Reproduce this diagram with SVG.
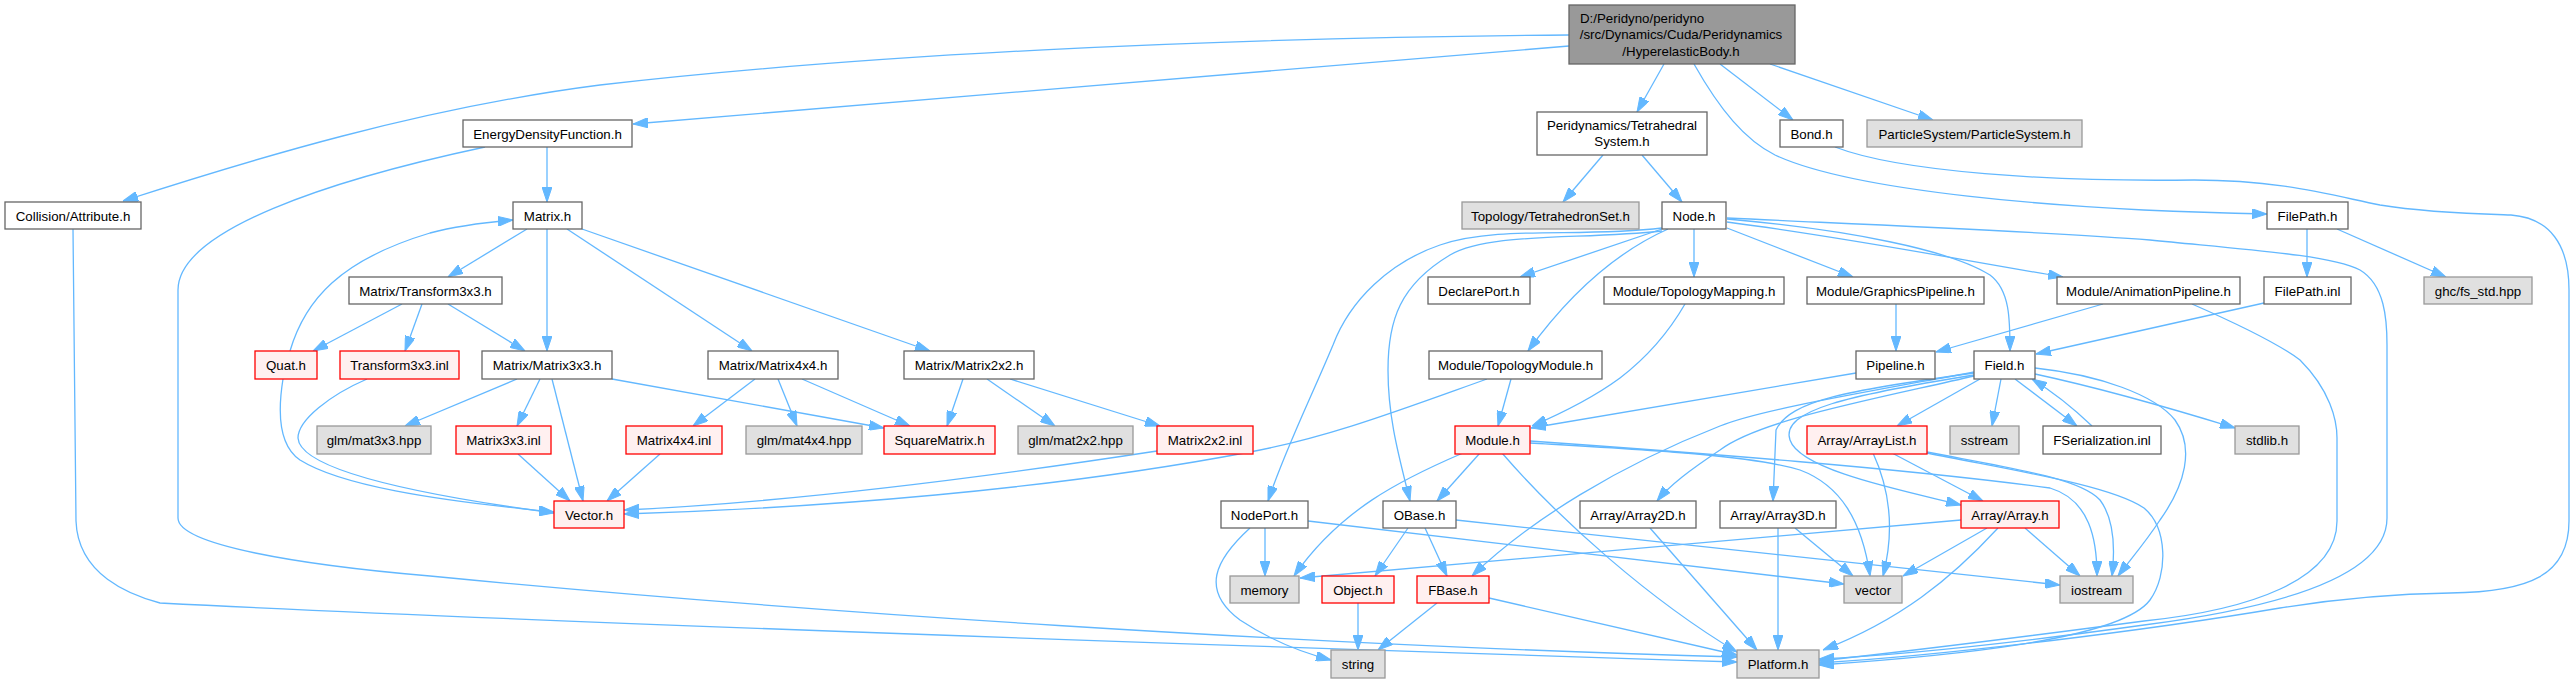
<svg xmlns="http://www.w3.org/2000/svg" width="2574" height="683" viewBox="0 0 2574 683">
<style>
.e{fill:none;stroke:#63b8ff;stroke-width:1.3;marker-end:url(#a)}
rect{stroke-width:1.3}
.w{fill:#fff;stroke:#666}
.r{fill:#fff0f0;stroke:#f00}
.g{fill:#e0e0e0;stroke:#999}
.k{fill:#999;stroke:#666}
text{font-family:"Liberation Sans",Arial,sans-serif;font-size:13.3px;text-anchor:middle;fill:#000}
</style>
<defs>
<marker id="a" markerUnits="userSpaceOnUse" markerWidth="15" markerHeight="10" viewBox="0 0 15 10" refX="15" refY="5" orient="auto"><path d="M0,0 L15,5 L0,10 z" fill="#63b8ff" stroke="#63b8ff"/></marker>
</defs>
<rect width="2574" height="683" fill="#fff"/>
<g id="connectors">
<path class="e" d="M1569,35 C1200,38 860,55 600,85 C420,108 250,160 123,201"/>
<path class="e" d="M1569,46 L633,124"/>
<path class="e" d="M1664,64 L1637,112"/>
<path class="e" d="M1694,64 C1720,110 1745,140 1775,155 C1850,190 2050,210 2267,214"/>
<path class="e" d="M1720,64 L1793,120"/>
<path class="e" d="M1770,64 L1933,120"/>
<path class="e" d="M547,147 L547,202"/>
<path class="e" d="M485,147 C330,180 178,230 178,290 L178,518 C178,545 300,565 430,576 C800,612 1300,645 1737,657"/>
<path class="e" d="M73,229 L76,521 C78,575 130,595 160,603 C600,625 1300,648 1737,662"/>
<path class="e" d="M527,229 L448,277"/>
<path class="e" d="M547,229 L547,351"/>
<path class="e" d="M567,229 L752,351"/>
<path class="e" d="M582,229 L930,351"/>
<path class="e" d="M290,351 C305,300 340,260 430,233 C460,225 490,222 513,220"/>
<path class="e" d="M402,304 L313,351"/>
<path class="e" d="M422,304 L405,351"/>
<path class="e" d="M448,304 L525,351"/>
<path class="e" d="M283,379 C278,410 278,445 300,460 C340,485 430,500 554,512"/>
<path class="e" d="M367,379 C330,395 298,420 298,438 C300,470 420,495 554,513"/>
<path class="e" d="M517,379 L405,426"/>
<path class="e" d="M540,379 L517,426"/>
<path class="e" d="M552,379 L583,501"/>
<path class="e" d="M612,379 L884,428"/>
<path class="e" d="M755,379 L693,426"/>
<path class="e" d="M778,379 L797,426"/>
<path class="e" d="M802,379 L910,426"/>
<path class="e" d="M518,454 L570,501"/>
<path class="e" d="M660,454 L607,501"/>
<path class="e" d="M963,379 L947,426"/>
<path class="e" d="M987,379 L1055,426"/>
<path class="e" d="M1010,379 L1160,426"/>
<path class="e" d="M1157,451 C1000,475 800,502 624,510"/>
<path class="e" d="M1487,379 C1400,410 1330,437 1250,452 C1050,490 820,508 624,514"/>
<path class="e" d="M1603,155 L1563,202"/>
<path class="e" d="M1642,155 L1682,202"/>
<path class="e" d="M1662,229 L1520,277"/>
<path class="e" d="M1694,229 L1694,277"/>
<path class="e" d="M1668,229 C1610,255 1565,300 1528,351"/>
<path class="e" d="M1662,228 C1580,238 1500,225 1440,245 C1390,262 1350,300 1333,345 C1310,400 1285,450 1268,501"/>
<path class="e" d="M1662,231 C1580,240 1490,232 1450,255 C1400,285 1388,320 1388,370 C1388,420 1400,460 1410,501"/>
<path class="e" d="M1727,228 L1853,277"/>
<path class="e" d="M1727,222 C1850,238 1950,258 2063,277"/>
<path class="e" d="M1727,219 C1850,230 1950,250 1990,275 C2010,290 2010,320 2010,351"/>
<path class="e" d="M1727,218 C1900,226 2050,232 2150,240 C2250,250 2330,255 2360,270 C2385,285 2387,320 2387,345 L2387,518 C2387,570 2300,605 2144,625 C2000,645 1900,655 1819,659"/>
<path class="e" d="M1835,147 C1900,172 2050,182 2194,180 C2280,180 2330,195 2380,205 C2430,213 2480,214 2511,215 C2550,218 2569,245 2569,290 L2569,521 C2569,575 2530,592 2450,593 C2380,594 2330,600 2280,608 C2150,630 1950,655 1819,663"/>
<path class="e" d="M2192,304 C2240,325 2280,345 2300,360 C2330,390 2337,420 2337,438 L2337,521 C2337,580 2250,610 2144,621 C2000,640 1900,652 1819,661"/>
<path class="e" d="M2307,229 L2307,277"/>
<path class="e" d="M2337,229 L2446,277"/>
<path class="e" d="M2264,303 L2036,354"/>
<path class="e" d="M1685,304 C1670,330 1650,355 1620,378 C1590,400 1560,414 1532,426"/>
<path class="e" d="M1896,304 L1896,351"/>
<path class="e" d="M2103,304 L1936,352"/>
<path class="e" d="M1856,373 L1531,428"/>
<path class="e" d="M1511,379 L1498,426"/>
<path class="e" d="M1980,379 L1897,426"/>
<path class="e" d="M2001,379 L1992,426"/>
<path class="e" d="M2015,379 L2077,426"/>
<path class="e" d="M2092,426 C2070,405 2050,390 2032,379"/>
<path class="e" d="M2035,374 C2100,388 2170,408 2235,428"/>
<path class="e" d="M2035,368 C2100,375 2155,395 2175,420 C2195,448 2185,485 2160,520 C2145,543 2130,560 2118,576"/>
<path class="e" d="M1927,453 C2010,470 2110,485 2144,508 C2168,528 2168,575 2150,600 C2120,640 1950,656 1819,665"/>
<path class="e" d="M1927,452 C2010,468 2080,478 2100,500 C2115,520 2115,550 2112,576"/>
<path class="e" d="M1974,373 C1850,390 1790,400 1776,430 L1773,501"/>
<path class="e" d="M1974,375 C1850,395 1780,410 1790,440 C1800,470 1900,490 1961,505"/>
<path class="e" d="M1974,376 C1870,400 1760,420 1720,450 C1690,470 1670,485 1657,501"/>
<path class="e" d="M1974,372 C1850,395 1760,410 1720,426 C1620,465 1530,520 1472,576"/>
<path class="e" d="M1502,453 C1560,520 1650,600 1737,652"/>
<path class="e" d="M1480,453 L1437,501"/>
<path class="e" d="M1463,453 C1400,480 1340,510 1294,576"/>
<path class="e" d="M1530,443 C1650,450 1750,455 1800,470 C1840,485 1862,520 1870,576"/>
<path class="e" d="M1530,441 C1700,453 1900,468 2050,488 C2090,500 2097,540 2097,576"/>
<path class="e" d="M1408,528 L1375,576"/>
<path class="e" d="M1425,528 L1447,576"/>
<path class="e" d="M1456,520 L2060,585"/>
<path class="e" d="M1265,528 L1265,576"/>
<path class="e" d="M1250,528 C1215,560 1200,590 1240,620 C1270,640 1300,652 1331,660"/>
<path class="e" d="M1308,521 L1844,584"/>
<path class="e" d="M1892,453 L1983,501"/>
<path class="e" d="M1873,453 C1890,490 1895,530 1883,576"/>
<path class="e" d="M1987,528 L1903,576"/>
<path class="e" d="M2025,528 L2080,576"/>
<path class="e" d="M1998,528 C1950,580 1900,620 1823,650"/>
<path class="e" d="M1961,520 L1300,578"/>
<path class="e" d="M1778,528 L1778,650"/>
<path class="e" d="M1795,528 L1853,576"/>
<path class="e" d="M1650,528 L1757,650"/>
<path class="e" d="M1358,603 L1358,650"/>
<path class="e" d="M1437,603 L1378,650"/>
<path class="e" d="M1489,598 L1737,655"/>
</g>
<g id="root"><rect class="k" x="1569" y="5" width="226" height="59"/><text x="1580" y="23" style="text-anchor:start">D:/Peridyno/peridyno</text><text x="1681" y="39">/src/Dynamics/Cuda/Peridynamics</text><text x="1681" y="56">/HyperelasticBody.h</text></g>
<g id="edf"><rect class="w" x="463" y="120" width="169" height="27"/><text x="547.5" y="138.5">EnergyDensityFunction.h</text></g>
<g id="bond"><rect class="w" x="1780" y="120" width="63" height="27"/><text x="1811.5" y="138.5">Bond.h</text></g>
<g id="ps"><rect class="g" x="1867" y="120" width="215" height="27"/><text x="1974.5" y="138.5">ParticleSystem/ParticleSystem.h</text></g>
<g id="pts"><rect class="w" x="1537" y="112" width="170" height="43"/><text x="1622" y="130">Peridynamics/Tetrahedral</text><text x="1622" y="146">System.h</text></g>
<g id="collision"><rect class="w" x="5" y="202" width="136" height="27"/><text x="73" y="220.5">Collision/Attribute.h</text></g>
<g id="matrix"><rect class="w" x="513" y="202" width="69" height="27"/><text x="547.5" y="220.5">Matrix.h</text></g>
<g id="tetset"><rect class="g" x="1462" y="202" width="177" height="27"/><text x="1550.5" y="220.5">Topology/TetrahedronSet.h</text></g>
<g id="node"><rect class="w" x="1662" y="202" width="64" height="27"/><text x="1694" y="220.5">Node.h</text></g>
<g id="filepath_h"><rect class="w" x="2267" y="202" width="81" height="27"/><text x="2307.5" y="220.5">FilePath.h</text></g>
<g id="transform3x3_h"><rect class="w" x="349" y="277" width="153" height="27"/><text x="425.5" y="295.5">Matrix/Transform3x3.h</text></g>
<g id="declareport"><rect class="w" x="1428" y="277" width="102" height="27"/><text x="1479" y="295.5">DeclarePort.h</text></g>
<g id="topomapping"><rect class="w" x="1604" y="277" width="180" height="27"/><text x="1694" y="295.5">Module/TopologyMapping.h</text></g>
<g id="graphicspipeline"><rect class="w" x="1807" y="277" width="177" height="27"/><text x="1895.5" y="295.5">Module/GraphicsPipeline.h</text></g>
<g id="animpipeline"><rect class="w" x="2057" y="277" width="183" height="27"/><text x="2148.5" y="295.5">Module/AnimationPipeline.h</text></g>
<g id="filepath_inl"><rect class="w" x="2264" y="277" width="87" height="27"/><text x="2307.5" y="295.5">FilePath.inl</text></g>
<g id="ghc"><rect class="g" x="2424" y="277" width="108" height="27"/><text x="2478" y="295.5">ghc/fs_std.hpp</text></g>
<g id="quat"><rect class="r" x="255" y="351" width="62" height="28"/><text x="286" y="370">Quat.h</text></g>
<g id="transform3x3_inl"><rect class="r" x="340" y="351" width="119" height="28"/><text x="399.5" y="370">Transform3x3.inl</text></g>
<g id="matrix3x3_h"><rect class="w" x="482" y="351" width="130" height="28"/><text x="547" y="370">Matrix/Matrix3x3.h</text></g>
<g id="matrix4x4_h"><rect class="w" x="708" y="351" width="130" height="28"/><text x="773" y="370">Matrix/Matrix4x4.h</text></g>
<g id="matrix2x2_h"><rect class="w" x="904" y="351" width="130" height="28"/><text x="969" y="370">Matrix/Matrix2x2.h</text></g>
<g id="topomodule"><rect class="w" x="1429" y="351" width="173" height="28"/><text x="1515.5" y="370">Module/TopologyModule.h</text></g>
<g id="pipeline"><rect class="w" x="1856" y="351" width="79" height="28"/><text x="1895.5" y="370">Pipeline.h</text></g>
<g id="field"><rect class="w" x="1974" y="351" width="61" height="28"/><text x="2004.5" y="370">Field.h</text></g>
<g id="glm3"><rect class="g" x="317" y="426" width="114" height="28"/><text x="374" y="445">glm/mat3x3.hpp</text></g>
<g id="matrix3x3_inl"><rect class="r" x="456" y="426" width="95" height="28"/><text x="503.5" y="445">Matrix3x3.inl</text></g>
<g id="matrix4x4_inl"><rect class="r" x="626" y="426" width="96" height="28"/><text x="674" y="445">Matrix4x4.inl</text></g>
<g id="glm4"><rect class="g" x="746" y="426" width="116" height="28"/><text x="804" y="445">glm/mat4x4.hpp</text></g>
<g id="squarematrix"><rect class="r" x="884" y="426" width="111" height="28"/><text x="939.5" y="445">SquareMatrix.h</text></g>
<g id="glm2"><rect class="g" x="1018" y="426" width="115" height="28"/><text x="1075.5" y="445">glm/mat2x2.hpp</text></g>
<g id="matrix2x2_inl"><rect class="r" x="1157" y="426" width="96" height="28"/><text x="1205" y="445">Matrix2x2.inl</text></g>
<g id="module"><rect class="r" x="1455" y="426" width="75" height="28"/><text x="1492.5" y="445">Module.h</text></g>
<g id="arraylist"><rect class="r" x="1807" y="426" width="120" height="28"/><text x="1867" y="445">Array/ArrayList.h</text></g>
<g id="sstream"><rect class="g" x="1950" y="426" width="69" height="28"/><text x="1984.5" y="445">sstream</text></g>
<g id="fserialization"><rect class="w" x="2043" y="426" width="118" height="28"/><text x="2102" y="445">FSerialization.inl</text></g>
<g id="stdlib"><rect class="g" x="2235" y="426" width="64" height="28"/><text x="2267" y="445">stdlib.h</text></g>
<g id="vector_h"><rect class="r" x="554" y="501" width="70" height="27"/><text x="589" y="519.5">Vector.h</text></g>
<g id="nodeport"><rect class="w" x="1221" y="501" width="87" height="27"/><text x="1264.5" y="519.5">NodePort.h</text></g>
<g id="obase"><rect class="w" x="1383" y="501" width="73" height="27"/><text x="1419.5" y="519.5">OBase.h</text></g>
<g id="array2d"><rect class="w" x="1580" y="501" width="116" height="27"/><text x="1638" y="519.5">Array/Array2D.h</text></g>
<g id="array3d"><rect class="w" x="1720" y="501" width="116" height="27"/><text x="1778" y="519.5">Array/Array3D.h</text></g>
<g id="array"><rect class="r" x="1961" y="501" width="98" height="27"/><text x="2010" y="519.5">Array/Array.h</text></g>
<g id="memory"><rect class="g" x="1230" y="576" width="69" height="27"/><text x="1264.5" y="594.5">memory</text></g>
<g id="object"><rect class="r" x="1322" y="576" width="72" height="27"/><text x="1358" y="594.5">Object.h</text></g>
<g id="fbase"><rect class="r" x="1417" y="576" width="72" height="27"/><text x="1453" y="594.5">FBase.h</text></g>
<g id="vector"><rect class="g" x="1844" y="576" width="58" height="27"/><text x="1873" y="594.5">vector</text></g>
<g id="iostream"><rect class="g" x="2060" y="576" width="73" height="27"/><text x="2096.5" y="594.5">iostream</text></g>
<g id="string"><rect class="g" x="1331" y="650" width="54" height="28"/><text x="1358" y="669">string</text></g>
<g id="platform"><rect class="g" x="1737" y="650" width="82" height="28"/><text x="1778" y="669">Platform.h</text></g>
</svg>
